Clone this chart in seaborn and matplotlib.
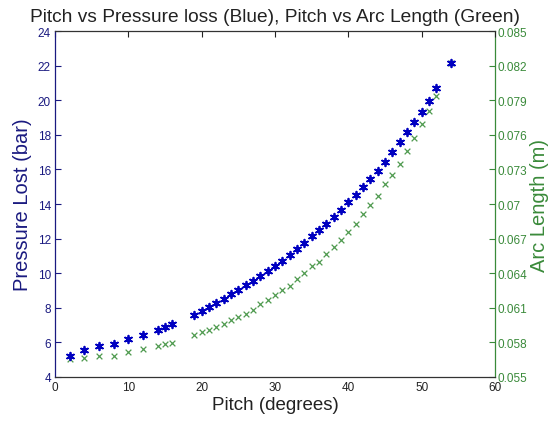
import matplotlib
matplotlib.use("Agg")
import matplotlib.pyplot as plt
import seaborn as sns
import pandas as pd

# Pitch (degrees)
pitch = [2, 4, 6, 8, 10, 12, 14, 15, 16,
         19, 20, 21, 22, 23, 24, 25, 26, 27, 28, 29, 30, 31, 32, 33, 34, 35,
         36, 37, 38, 39, 40, 41, 42, 43, 44, 45, 46, 47, 48, 49, 50, 51, 52,
         54]

# Pressure lost (bar)
pressure = [5.23, 5.56, 5.78, 5.90, 6.20, 6.41, 6.73, 6.88, 7.07,
            7.58, 7.81, 8.05, 8.26, 8.53, 8.78, 9.01, 9.30, 9.55, 9.82, 10.13,
            10.42, 10.71, 11.05, 11.40, 11.76, 12.13, 12.50, 12.86, 13.23, 13.65,
            14.10, 14.52, 14.98, 15.45, 15.92, 16.45, 16.99, 17.57, 18.14, 18.72,
            19.34, 19.97, 20.69,
            22.15]

# Arc length (m)
arc = [0.05656, 0.05662, 0.05680, 0.05685, 0.05714, 0.05743, 0.05766, 0.05784, 0.05798,
       0.0586, 0.0589, 0.0591, 0.0593, 0.0596, 0.0599, 0.0602, 0.0605, 0.0608, 0.0613,
       0.0617, 0.0621, 0.0625, 0.0629, 0.0635, 0.0640, 0.0646, 0.0650, 0.0657, 0.0663,
       0.0669, 0.0676, 0.0683, 0.0691, 0.0699, 0.0707, 0.0717, 0.0725, 0.0735, 0.0746,
       0.0757, 0.0769, 0.0781, 0.0794,
       0.0822]

xticks = [0, 10, 20, 30, 40, 50, 60]
left_ticks = [4, 6, 8, 10, 12, 14, 16, 18, 20, 22, 24]
right_ticks = [0.055, 0.058, 0.061, 0.064, 0.067, 0.07, 0.073, 0.076, 0.079, 0.082, 0.085]

df = pd.DataFrame({"pitch": pitch, "pressure": pressure, "arc": arc})

sns.set_style("white")
plt.rcParams['font.family'] = ['Liberation Sans', 'DejaVu Sans']

blue = "#0000c0"
axblue = "#1a1a80"
axgreen = "#3a8a3a"

fig = plt.figure(figsize=(5.48, 4.27), dpi=100)
ax = fig.add_axes([0.1004, 0.1148, 0.8029, 0.8102])
ax2 = ax.twinx()

sns.scatterplot(data=df, x="pitch", y="arc", ax=ax2, marker="x", color="#4f9a4f",
                s=17, linewidth=0.9, legend=False)
sns.scatterplot(data=df, x="pitch", y="pressure", ax=ax, marker=(6, 2, 0), color=blue,
                edgecolor=blue, s=30, linewidth=1.3, legend=False)

ax.set_zorder(ax2.get_zorder() + 1)
ax.patch.set_visible(False)

ax.set_xlim(0, 60)
ax.set_ylim(4, 24)
ax2.set_ylim(0.055, 0.085)
ax.set_xticks(xticks)
ax.set_yticks(left_ticks)
ax2.set_yticks(right_ticks)
ax2.set_yticklabels([f"{t:g}" for t in right_ticks])

ax.tick_params(axis="x", direction="in", length=4, top=True, labelsize=8.5,
               colors="#222222", pad=3)
ax.tick_params(axis="y", direction="in", length=4, labelsize=8.5, colors=axblue,
               pad=3)
ax2.tick_params(axis="y", direction="in", length=4, labelsize=8.5, colors=axgreen,
                pad=2)

for side in ["top", "bottom"]:
    ax.spines[side].set_color("#333333")
    ax2.spines[side].set_visible(False)
ax.spines["left"].set_color(axblue)
ax.spines["right"].set_visible(False)
ax2.spines["left"].set_visible(False)
ax2.spines["right"].set_color(axgreen)
for s in ax.spines.values():
    s.set_linewidth(0.9)
for s in ax2.spines.values():
    s.set_linewidth(0.9)

ax.set_xlabel("Pitch (degrees)", fontsize=13.5, color="#222222", labelpad=2)
ax.set_ylabel("Pressure Lost (bar)", fontsize=14.5, color=axblue, labelpad=4)
ax2.set_ylabel("Arc Length (m)", fontsize=14.5, color=axgreen, labelpad=2)
ax.set_title("Pitch vs Pressure loss (Blue), Pitch vs Arc Length (Green)",
             fontsize=13.8, color="#222222", pad=7)

fig.savefig("out.png", dpi=100)
